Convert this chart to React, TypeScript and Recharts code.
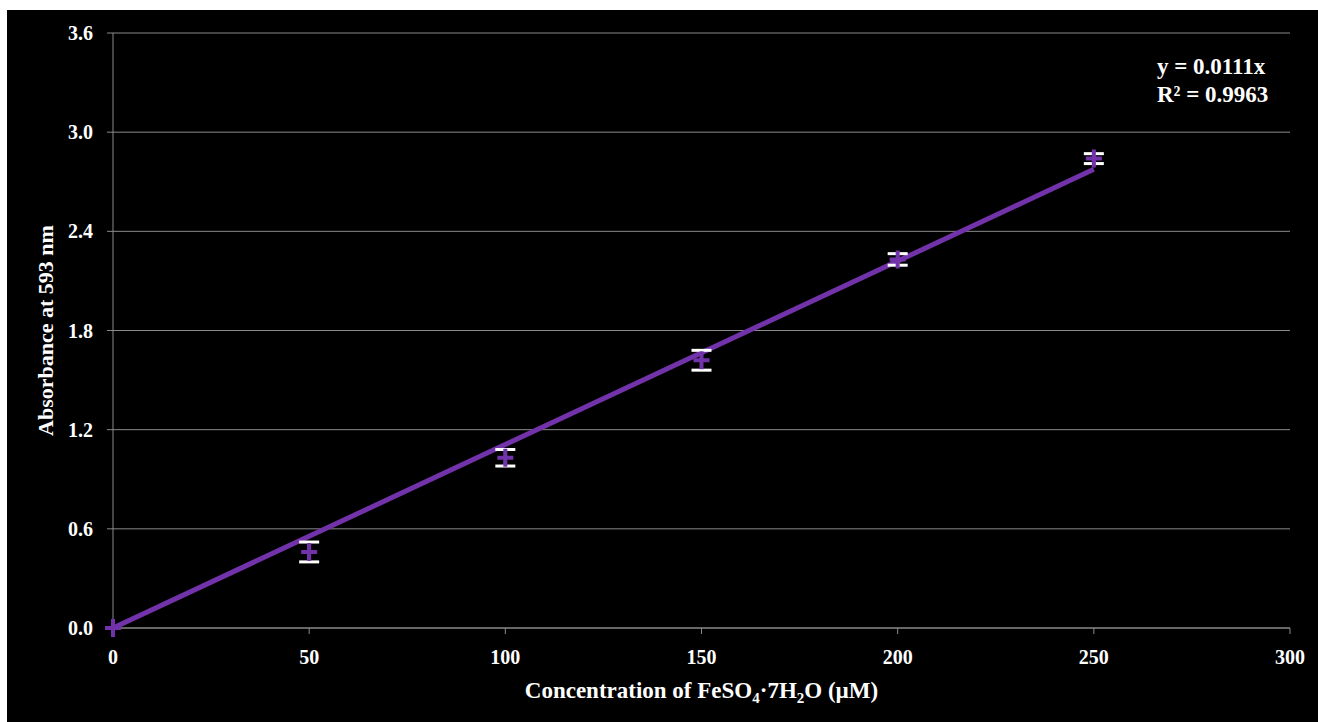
import React from "react";
import {
  CartesianGrid,
  ComposedChart,
  ErrorBar,
  Label,
  Line,
  Scatter,
  XAxis,
  YAxis,
} from "recharts";

const concentrations = [0, 50, 100, 150, 200, 250];
const absorbance = [0.0, 0.46, 1.03, 1.62, 2.23, 2.84];
const errors = [0.0, 0.06, 0.05, 0.06, 0.035, 0.03];
const trendX = [0, 250];
const trendY = [0, 2.775];
const xTicks = [0, 50, 100, 150, 200, 250, 300];
const yTicks = [0, 0.6, 1.2, 1.8, 2.4, 3.0, 3.6];

const PURPLE = "#7232AA";
const GRID = "#8a8a8a";
const FONT = "'Liberation Serif', 'Times New Roman', serif";

const points = concentrations.map((x, i) => ({
  x,
  y: absorbance[i],
  err: errors[i],
}));
const trend = trendX.map((x, i) => ({ x, t: trendY[i] }));

const PlusMarker = (props: any) => {
  const { cx, cy } = props;
  if (cx == null || cy == null) return null;
  return (
    <path
      d={`M${cx - 8},${cy} H${cx + 8} M${cx},${cy - 9} V${cy + 9}`}
      stroke={PURPLE}
      strokeWidth={4}
      fill="none"
    />
  );
};

const tickStyle = { fill: "#ffffff", fontSize: 20, fontWeight: 700, fontFamily: FONT };

const App = () => {
  return (
    <div
      style={{
        position: "fixed",
        left: 0,
        top: 0,
        width: 1318,
        height: 722,
        background: "#ffffff",
      }}
    >
      <div
        style={{
          position: "absolute",
          left: 7,
          top: 10,
          width: 1311,
          height: 712,
          background: "#000000",
        }}
      >
        <ComposedChart
          width={1311}
          height={712}
          margin={{ top: 23, right: 28, left: 0, bottom: 0 }}
        >
          <CartesianGrid stroke={GRID} vertical={false} />
          <XAxis
            dataKey="x"
            type="number"
            domain={[0, 300]}
            ticks={xTicks}
            interval={0}
            allowDuplicatedCategory={false}
            stroke={GRID}
            tickSize={6}
            tickMargin={16}
            tick={tickStyle}
            height={94}
          >
            <Label
              position="insideBottom"
              content={({ viewBox }: any) => {
                const cx = viewBox.x + viewBox.width / 2;
                const y = viewBox.y + 70;
                return (
                  <text
                    x={cx}
                    y={y}
                    textAnchor="middle"
                    fill="#ffffff"
                    fontFamily={FONT}
                    fontWeight={700}
                    fontSize={23}
                  >
                    Concentration of FeSO
                    <tspan fontSize={15} dy={5}>4</tspan>
                    <tspan dy={-5}>·7H</tspan>
                    <tspan fontSize={15} dy={5}>2</tspan>
                    <tspan dy={-5}>O (µM)</tspan>
                  </text>
                );
              }}
            />
          </XAxis>
          <YAxis
            type="number"
            domain={[0, 3.6]}
            ticks={yTicks}
            interval={0}
            stroke={GRID}
            tickSize={6}
            tickMargin={14}
            tick={tickStyle}
            tickFormatter={(v: number) => v.toFixed(1)}
            width={106}
          >
            <Label
              angle={-90}
              position="insideLeft"
              offset={38}
              style={{
                fill: "#ffffff",
                fontFamily: FONT,
                fontWeight: 700,
                fontSize: 22,
                textAnchor: "middle",
              }}
              value="Absorbance at 593 nm"
            />
          </YAxis>
          <Line
            data={trend}
            dataKey="t"
            stroke={PURPLE}
            strokeWidth={5}
            dot={false}
            activeDot={false}
            isAnimationActive={false}
          />
          <Scatter
            data={points}
            dataKey="y"
            shape={<PlusMarker />}
            isAnimationActive={false}
          >
            <ErrorBar
              dataKey="err"
              direction="y"
              width={10}
              stroke="#ffffff"
              strokeWidth={3}
            />
          </Scatter>
        </ComposedChart>
        <div
          style={{
            position: "absolute",
            left: 1150,
            top: 43,
            color: "#ffffff",
            fontFamily: FONT,
            fontWeight: 700,
            fontSize: 23,
            lineHeight: "28px",
          }}
        >
          <div>y = 0.0111x</div>
          <div>R² = 0.9963</div>
        </div>
      </div>
    </div>
  );
};

export default App;
